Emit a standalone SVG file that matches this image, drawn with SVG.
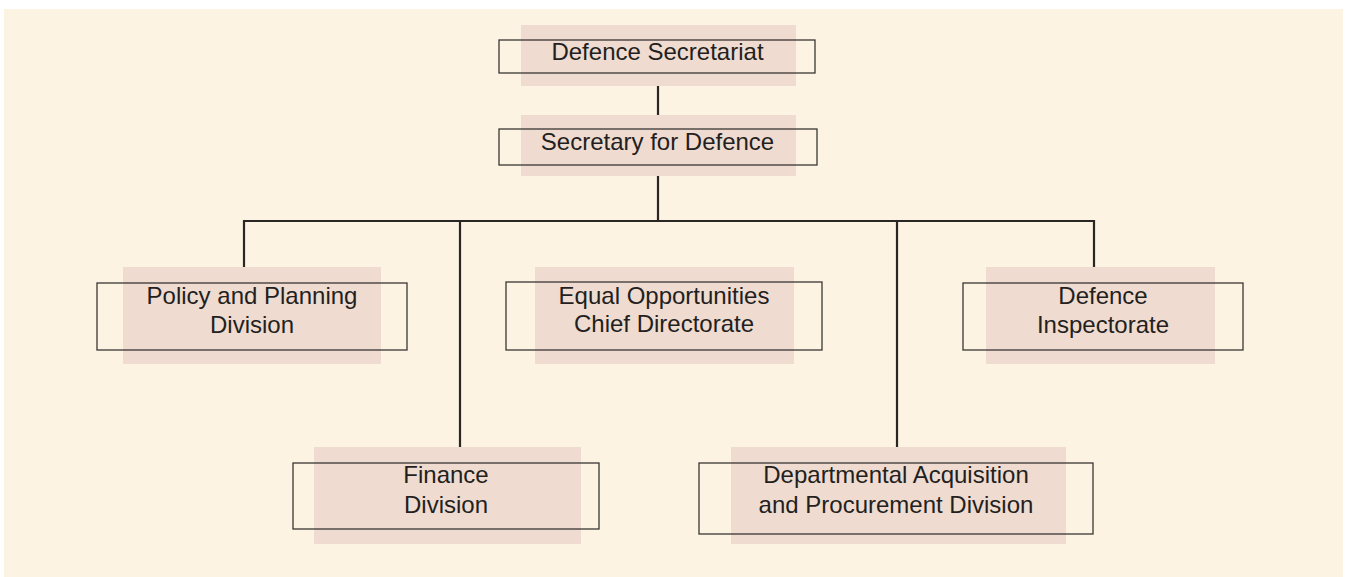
<svg xmlns="http://www.w3.org/2000/svg" width="1350" height="577" viewBox="0 0 1350 577">
<style>
.bg{fill:#fdf3e3}
.sh{fill:#efdbd0}
.bx{fill:none;stroke:#3a3634;stroke-width:1.3}
.t{font-family:"Liberation Sans",Arial,sans-serif;font-size:24px;fill:#231f20;text-anchor:middle}
.c{fill:none;stroke:#2a2624;stroke-width:2.2}
</style>
<rect x="0" y="0" width="1350" height="577" fill="#ffffff"/>
<rect class="bg" x="4" y="9" width="1339" height="568"/>
<g id="connectors">
<path class="c" d="M658 86V115M658 176V221M244 267V221H1094V267M460 221V447M897 221V447"/>
</g>
<g id="defence-secretariat">
<rect class="sh" x="521" y="25" width="275" height="61"/>
<rect class="bx" x="499" y="40" width="316" height="33"/>
<text class="t" x="657.5" y="60">Defence Secretariat</text>
</g>
<g id="secretary-for-defence">
<rect class="sh" x="521" y="115" width="275" height="61"/>
<rect class="bx" x="499" y="129" width="318" height="36"/>
<text class="t" x="657.5" y="150">Secretary for Defence</text>
</g>
<g id="policy-planning">
<rect class="sh" x="123" y="267" width="258" height="97"/>
<rect class="bx" x="97" y="283" width="310" height="67"/>
<text class="t" x="252" y="304">Policy and Planning</text>
<text class="t" x="252" y="333">Division</text>
</g>
<g id="equal-opportunities">
<rect class="sh" x="535" y="267" width="259" height="97"/>
<rect class="bx" x="506" y="282" width="316" height="68"/>
<text class="t" x="664" y="304">Equal Opportunities</text>
<text class="t" x="664" y="332">Chief Directorate</text>
</g>
<g id="defence-inspectorate">
<rect class="sh" x="986" y="267" width="229" height="97"/>
<rect class="bx" x="963" y="283" width="280" height="67"/>
<text class="t" x="1103" y="304">Defence</text>
<text class="t" x="1103" y="333">Inspectorate</text>
</g>
<g id="finance-division">
<rect class="sh" x="314" y="447" width="267" height="97"/>
<rect class="bx" x="293" y="463" width="306" height="66"/>
<text class="t" x="446" y="483">Finance</text>
<text class="t" x="446" y="513">Division</text>
</g>
<g id="acquisition-procurement">
<rect class="sh" x="731" y="447" width="335" height="97"/>
<rect class="bx" x="699" y="463" width="394" height="71"/>
<text class="t" x="896" y="483">Departmental Acquisition</text>
<text class="t" x="896" y="513">and Procurement Division</text>
</g>
</svg>
